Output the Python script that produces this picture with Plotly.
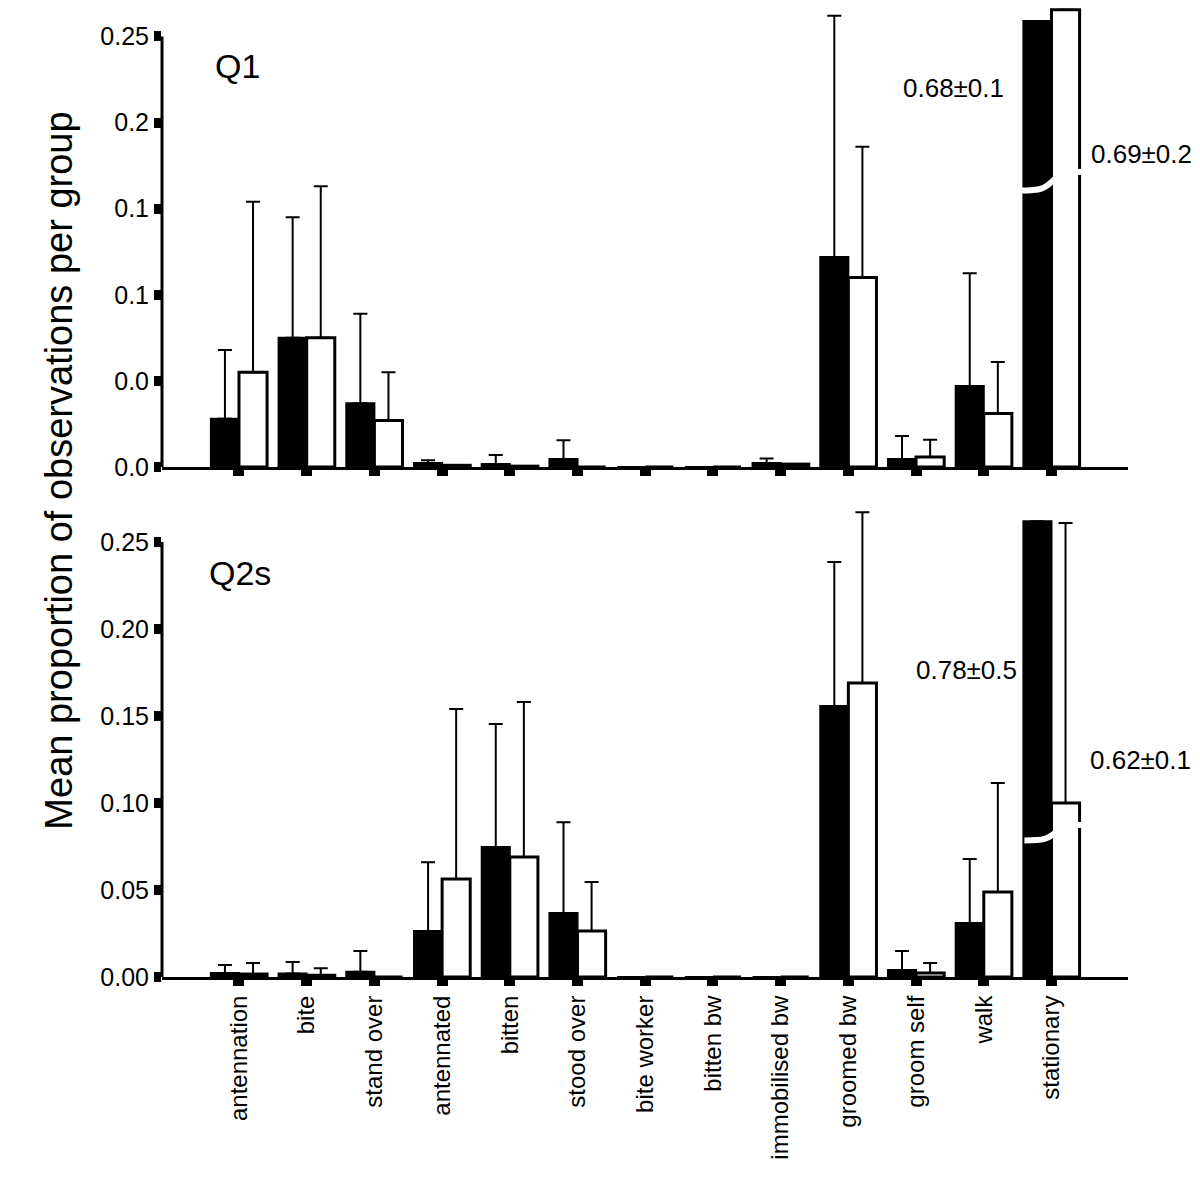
import plotly.graph_objects as go

categories = ["antennation", "bite", "stand over", "antennated", "bitten", "stood over",
              "bite worker", "bitten bw", "immobilised bw", "groomed bw", "groom self",
              "walk", "stationary"]

# Q1 panel (black = first group, white = second group); stationary bars are drawn truncated (broken axis)
q1_black = [0.028, 0.075, 0.037, 0.0023, 0.0017, 0.0046, 0, 0, 0.0023, 0.122, 0.0046, 0.047, 0.259]
q1_black_err = [0.040, 0.070, 0.052, 0.0017, 0.0053, 0.011, None, None, 0.0027, 0.140, 0.0134, 0.0655, None]
q1_white = [0.055, 0.075, 0.027, 0.001, 0.0005, 0, 0, 0, 0.0017, 0.110, 0.0058, 0.031, 0.2655]
q1_white_err = [0.099, 0.088, 0.028, None, None, None, None, None, None, 0.076, 0.010, 0.030, None]

# Q2s panel
q2_black = [0.0023, 0.002, 0.003, 0.0264, 0.0747, 0.0368, 0, 0, 0, 0.1557, 0.004, 0.031, 0.262]
q2_black_err = [0.0046, 0.0066, 0.012, 0.0396, 0.0707, 0.0522, None, None, None, 0.0828, 0.011, 0.0368, None]
q2_white = [0.0017, 0.001, 0, 0.0563, 0.069, 0.0264, 0, 0, 0, 0.169, 0.0023, 0.0489, 0.100]
q2_white_err = [0.0063, 0.004, None, 0.0977, 0.089, 0.0282, None, None, None, 0.0982, 0.0057, 0.0626, 0.161]

# stationary true means (shown as text, bars broken)
q1_labels = ["0.68±0.1", "0.69±0.2"]
q2_labels = ["0.78±0.5", "0.62±0.1"]

y_tickvals = [0, 0.05, 0.10, 0.15, 0.20, 0.25]
q1_ticktext = ["0.0", "0.0", "0.1", "0.1", "0.2", "0.25"]
q2_ticktext = ["0.00", "0.05", "0.10", "0.15", "0.20", "0.25"]

FONT = "Liberation Sans, Arial, Helvetica, sans-serif"
xs = list(range(len(categories)))


def err(arr):
    return dict(type="data", array=arr, arrayminus=[0] * len(arr), symmetric=False,
                color="black", thickness=2, width=7, visible=True)


fig = go.Figure()
for (blk, blk_e, wht, wht_e, xa, ya) in [
        (q1_black, q1_black_err, q1_white, q1_white_err, "x", "y"),
        (q2_black, q2_black_err, q2_white, q2_white_err, "x2", "y2")]:
    fig.add_trace(go.Bar(x=xs, y=blk, error_y=err(blk_e), xaxis=xa, yaxis=ya,
                         marker=dict(color="black", line=dict(color="black", width=2)),
                         showlegend=False))
    fig.add_trace(go.Bar(x=xs, y=wht, error_y=err(wht_e), xaxis=xa, yaxis=ya,
                         marker=dict(color="white", line=dict(color="black", width=3)),
                         showlegend=False))

xrange = [-1.137, 13.13]
common_x = dict(range=xrange, tickvals=xs, ticks="outside", ticklen=6, tickwidth=11,
                tickcolor="black", showline=True, linewidth=3, linecolor="black",
                showgrid=False, zeroline=False)
common_y = dict(tickvals=y_tickvals, ticks="outside", ticklen=7, tickwidth=10,
                tickcolor="black", showline=False, showgrid=False, zeroline=False,
                tickfont=dict(size=25, color="black", family=FONT))

fig.update_layout(
    width=1192, height=1192,
    margin=dict(l=154, r=72, t=0, b=223),
    paper_bgcolor="white", plot_bgcolor="white",
    barmode="group", bargap=0.17, bargroupgap=0,
    font=dict(family=FONT, color="black"),
    xaxis=dict(anchor="y", showticklabels=False, **common_x),
    yaxis=dict(domain=[0.5263, 1.0], anchor="x", range=[0, 0.2665], ticktext=q1_ticktext, **common_y),
    xaxis2=dict(anchor="y2", showticklabels=True, ticktext=categories, tickangle=-90,
                tickfont=dict(size=24, color="black", family=FONT), **common_x),
    yaxis2=dict(domain=[0.0, 0.4871], anchor="x2", range=[0, 0.2713], ticktext=q2_ticktext, **common_y),
)

# y-axis lines that stop at 0.25
for xr, yr in [("x domain", "y"), ("x2 domain", "y2")]:
    fig.add_shape(type="line", xref=xr, yref=yr, x0=0, x1=0, y0=0, y1=0.25,
                  line=dict(color="black", width=3))


def wave(xa, xb, yb, amp):
    xm = (xa + xb) / 2
    return (f"M {xa},{yb - amp} C {xa + 0.3},{yb - amp} {xm - 0.12},{yb - amp * 0.8} {xm},{yb} "
            f"S {xb - 0.3},{yb + amp} {xb},{yb + amp}")


fig.add_shape(type="path", xref="x", yref="y", path=wave(11.55, 12.48, 0.166, 0.0055),
              line=dict(color="white", width=6))
fig.add_shape(type="path", xref="x2", yref="y2", path=wave(11.6, 12.52, 0.083, 0.0045),
              line=dict(color="white", width=6))

ann_font = dict(size=26, color="black", family=FONT)
fig.add_annotation(x=10.55, y=0.22, xref="x", yref="y", text=q1_labels[0], showarrow=False, font=ann_font)
fig.add_annotation(x=12.56, y=0.182, xref="x", yref="y", text=q1_labels[1], showarrow=False,
                   xanchor="left", font=ann_font)
fig.add_annotation(x=10.75, y=0.1764, xref="x2", yref="y2", text=q2_labels[0], showarrow=False, font=ann_font)
fig.add_annotation(x=12.54, y=0.1247, xref="x2", yref="y2", text=q2_labels[1], showarrow=False,
                   xanchor="left", font=ann_font)

fig.add_annotation(x=-0.384, y=0.233, xref="x", yref="y", text="Q1", showarrow=False,
                   xanchor="left", font=dict(size=34, color="black", family=FONT))
fig.add_annotation(x=-0.47, y=0.232, xref="x2", yref="y2", text="Q2s", showarrow=False,
                   xanchor="left", font=dict(size=34, color="black", family=FONT))

fig.add_annotation(x=-0.13, y=0.523, xref="paper", yref="paper",
                   text="Mean proportion of observations per group", textangle=-90,
                   showarrow=False, font=dict(size=38, color="black", family=FONT))

fig.write_html("out.html")
